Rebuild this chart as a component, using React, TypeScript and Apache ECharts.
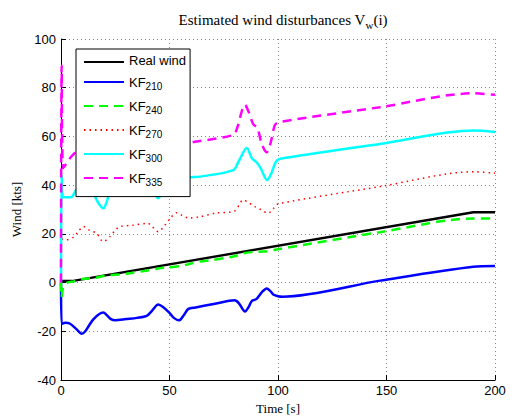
import React, { useEffect, useRef } from "react";
import * as echarts from "echarts";

// [time (s), wind (kts)]
const realWind: [number, number][] = [
  [0, 0.6], [5, 0.6], [190, 28.9], [200, 28.9],
];

const kf210: [number, number][] = [
  [0, 0], [0.3, -17], [2, -16.5], [4, -16.8], [7, -19], [9.5, -21], [11, -20.2], [13, -17.5],
  [15, -15], [17.5, -13], [19.5, -12.3], [21, -13.3], [23, -15], [25, -15.5], [30, -15],
  [35, -14.5], [39.5, -13.7], [42, -11.5], [44.8, -9], [47, -10], [50, -12.4], [52, -14.5],
  [54.4, -15.5], [56.5, -13.5], [58.7, -10.8], [62, -10.2], [71, -8.7], [80, -7.3],
  [82, -8.5], [84.8, -11.9], [86.5, -10], [88, -7.5], [90, -6.8], [92.5, -4], [94.8, -2.4],
  [96.5, -3.5], [98, -5], [100, -5.6], [102, -5.8], [147, 0.8], [190, 6.5], [200, 6.8],
];

const kf240: [number, number][] = [
  [0, 0], [0.3, -6], [1, -2], [3, 0], [6, 0.5], [10, 1.5], [15, 1.8], [20, 2.8], [25, 3.2],
  [30, 3.6], [40, 5], [45, 5.8], [50, 6.3], [55, 6.8], [60, 7.8], [64, 8.6], [70, 9.3],
  [80, 10.8], [84, 12], [88, 12.5], [95, 12.9], [100, 13.7], [147, 20.7], [190, 26.3],
  [200, 26.3],
];

const kf270: [number, number][] = [
  [0, 0], [0.3, 18], [2, 17.5], [5.7, 18.6], [8, 21], [10.3, 23], [13, 21.5], [16.4, 20.2],
  [19.5, 16.8], [22.6, 18.9], [25, 21.5], [27.2, 23], [33, 23.5], [40, 24.3], [42, 23],
  [44.8, 20.9], [48, 23.7], [50, 26], [53.3, 28.7], [56, 27.5], [59, 26.5], [64, 27],
  [71, 28.5], [80, 29.4], [84, 33.9], [87, 32.5], [89.4, 31.2], [92, 30], [95.5, 28.5],
  [98, 30.5], [100, 32.3], [147, 39.4], [190, 45.5], [200, 44.9],
];

const kf300: [number, number][] = [
  [0, 0], [0.3, 44], [1, 35], [4.6, 35], [7, 38], [10, 39.5], [14, 38], [17, 33],
  [19.5, 30.5], [21, 33], [23, 38], [27, 40], [35, 41], [40, 40], [43, 37], [44.8, 34.6],
  [46.5, 37], [50, 41], [55, 42.5], [59.4, 43.2], [64, 43.5], [79.4, 46.2], [82, 50],
  [85.6, 55.2], [88, 51], [90, 49.5], [92, 47], [95, 42.1], [97, 45], [99, 49.5],
  [101, 50.8], [147, 56.9], [190, 62.4], [200, 61.8],
];

const kf335: [number, number][] = [
  [0, 0], [0.3, 89], [1, 47], [3, 49.5], [5, 52], [8, 54], [15, 53], [20, 50], [25, 54],
  [35, 55], [45, 54], [50, 56], [59, 57.5], [63.3, 58], [79.4, 60.6], [81, 63], [84.8, 73],
  [86.5, 70], [88.6, 65], [90.5, 63.5], [92.5, 57], [94.8, 53.5], [96.5, 57], [98.6, 64.7],
  [101, 66], [147, 72], [190, 77.7], [200, 77.1],
];

const xTicks = { min: 0, max: 200, interval: 50 };
const yTicks = { min: -40, max: 100, interval: 20 };

const seriesNames = ["Real wind", "KF210", "KF240", "KF270", "KF300", "KF335"];

export default function App() {
  const ref = useRef<HTMLDivElement>(null);
  useEffect(() => {
    if (!ref.current) return;
    const chart = echarts.init(ref.current, null, { renderer: "svg" });
    const sans = "Liberation Sans";
    const serif = "Liberation Serif";
    const mk = (
      name: string,
      data: [number, number][],
      color: string,
      type: any,
      width: number,
      smooth: number
    ) => ({
      name,
      type: "line",
      data,
      symbol: "none",
      legendIcon: "none",
      smooth,
      lineStyle: { color, width, type },
      itemStyle: { color },
      z: 2,
    });
    chart.setOption({
      animation: false,
      backgroundColor: "#fff",
      title: {
        text: "{a|Estimated wind disturbances V}{s|w}{a|(i)}",
        left: 278,
        textAlign: "center",
        top: 5,
        textStyle: {
          fontWeight: "normal",
          rich: {
            a: { fontFamily: serif, fontSize: 15, fontWeight: "normal", color: "#000" },
            s: { fontFamily: serif, fontSize: 11, fontWeight: "normal", color: "#000", padding: [9, 0, 0, 0] },
          },
        },
      },
      grid: { left: 61, right: 15, top: 39, bottom: 40, containLabel: false },
      xAxis: {
        type: "value",
        min: xTicks.min,
        max: xTicks.max,
        interval: xTicks.interval,
        name: "Time [s]",
        nameLocation: "middle",
        nameGap: 21,
        nameTextStyle: { fontFamily: serif, fontSize: 13, color: "#000" },
        axisLine: { show: true, onZero: false, lineStyle: { color: "#000", width: 1 } },
        axisTick: { show: true, inside: true, length: 5, lineStyle: { color: "#000" } },
        axisLabel: { fontFamily: sans, fontSize: 13, color: "#000", margin: 4 },
        splitLine: { show: true, lineStyle: { color: "#888", type: [1, 3], width: 1 } },
      },
      yAxis: {
        type: "value",
        min: yTicks.min,
        max: yTicks.max,
        interval: yTicks.interval,
        name: "Wind [kts]",
        nameLocation: "middle",
        nameGap: 36,
        nameTextStyle: { fontFamily: serif, fontSize: 13, color: "#000" },
        axisLine: { show: true, lineStyle: { color: "#000", width: 1 } },
        axisTick: { show: true, inside: true, length: 5, lineStyle: { color: "#000" } },
        axisLabel: { fontFamily: sans, fontSize: 13, color: "#000", margin: 5 },
        splitLine: { show: true, lineStyle: { color: "#888", type: [1, 3], width: 1 } },
      },
      legend: {
        data: seriesNames,
        orient: "vertical",
        left: 76,
        top: 49,
        padding: [5, 4, 9, 7],
        itemGap: 8,
        itemWidth: 40,
        itemHeight: 14,
        backgroundColor: "#fff",
        borderColor: "#000",
        borderWidth: 1,
        itemStyle: { opacity: 0 },
        z: 10,
        formatter: (name: string) => {
          if (name.startsWith("KF")) return `{n|KF}{s|${name.slice(2)}}`;
          return `{r|${name}}`;
        },
        textStyle: {
          rich: {
            r: { fontFamily: sans, fontSize: 13, color: "#000", padding: [0, 0, 3, 0] },
            n: { fontFamily: sans, fontSize: 13, color: "#000" },
            s: { fontFamily: sans, fontSize: 10, color: "#000", padding: [9, 0, 0, 0] },
          },
        },
      },
      series: [
        mk("Real wind", realWind, "#000000", "solid", 2.5, 0),
        mk("KF210", kf210, "#0000ff", "solid", 2.5, 0.3),
        mk("KF240", kf240, "#00ff00", [9, 6], 2.5, 0.3),
        mk("KF270", kf270, "#ff0000", [1.5, 4], 1.5, 0.3),
        mk("KF300", kf300, "#00ffff", "solid", 2.5, 0.3),
        mk("KF335", kf335, "#ff00ff", [9, 6], 2.5, 0.3),
      ],
    });
    return () => chart.dispose();
  }, []);
  return <div ref={ref} style={{ width: 510, height: 420, position: "absolute", left: 0, top: 0 }} />;
}
